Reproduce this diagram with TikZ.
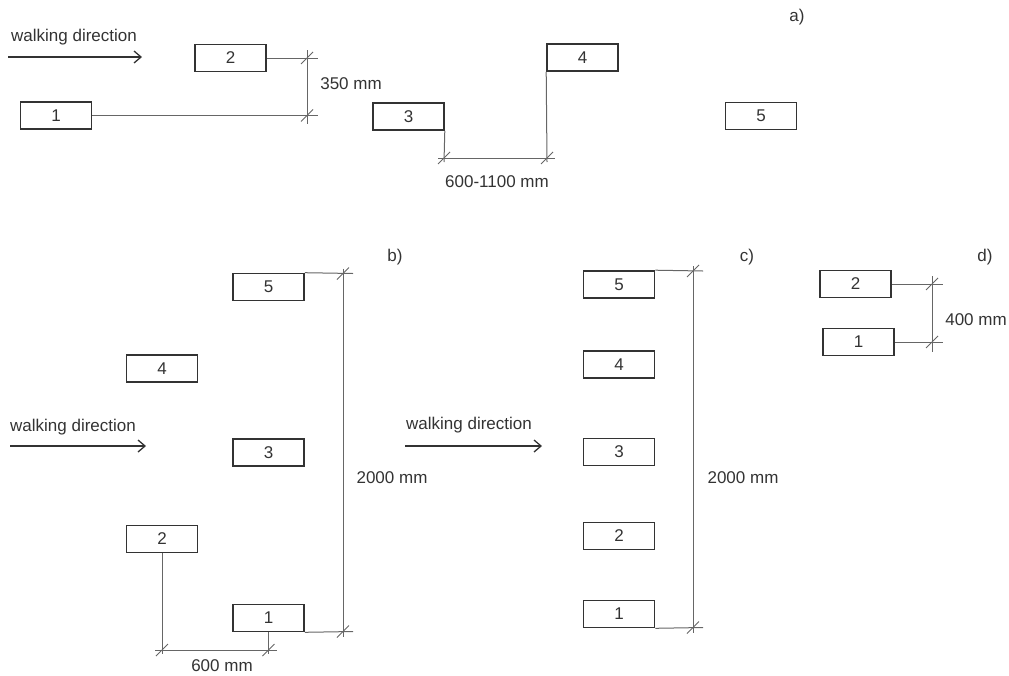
\documentclass[tikz,border=0pt]{standalone}
\usepackage{fontspec}
\setmainfont{Liberation Sans}
\usetikzlibrary{calc,arrows.meta}
\definecolor{ink}{HTML}{333333}
\definecolor{dimc}{HTML}{666666}
\tikzset{
  box/.style={draw=ink, line width=1.6pt, minimum width=71pt, minimum height=27pt, inner sep=0pt, font=\fontsize{17}{19}\selectfont, text=ink},
  lbl/.style={font=\fontsize{17}{19}\selectfont, text=ink, inner sep=0pt},
  dim/.style={draw=dimc, line width=1pt},
  walk/.style={draw=ink, line width=1.3pt, -{Straight Barb[length=7pt,width=12pt]}},
}
\newcommand\dimtick[1]{\draw[dim] ($(#1)+(-6,6)$) -- ($(#1)+(6,-6)$);}
\begin{document}
\begin{tikzpicture}[x=1pt,y=-1pt]
\useasboundingbox (0,0) rectangle (1009,675);
% ---------- panel a ----------
\node[lbl] (la) at (797,17) {a)};
\node[lbl] (wa) at (74,37) {walking direction};
\coordinate (wa0) at (8,57); \coordinate (wa1) at (142,57);
\draw[walk] (wa0) -- (wa1);
\node[box] (a1) at (56,115.5) {1};
\node[box] (a2) at (230.5,58) {2};
\node[box] (a3) at (408.5,116.5) {3};
\node[box] (a4) at (582.5,57.5) {4};
\node[box] (a5) at (761,116) {5};
\coordinate (a12t) at (307,58); \coordinate (a12b) at (307,115.5);
\draw[dim] (a2.east) -- ($(a12t)+(11,0)$);
\draw[dim] (a1.east) -- ($(a12b)+(11,0)$);
\draw[dim] ($(a12t)+(0,-8)$) -- ($(a12b)+(0,8)$);
\dimtick{a12t} \dimtick{a12b}
\node[lbl] (d350) at (351,84) {350 mm};
\coordinate (a3d) at (444,158); \coordinate (a4d) at (547,158);
\draw[dim] (a3.south east) -- ($(a3d)+(0,4)$);
\draw[dim] (a4.south west) -- ($(a4d)+(0,4)$);
\draw[dim] ($(a3d)+(-6,0)$) -- ($(a4d)+(8,0)$);
\dimtick{a3d} \dimtick{a4d}
\node[lbl] (d600a) at (497,182) {600-1100 mm};
% ---------- panel b ----------
\node[lbl] (lb) at (395,257) {b)};
\node[lbl] (wb) at (73,427) {walking direction};
\coordinate (wb0) at (10,446); \coordinate (wb1) at (146,446);
\draw[walk] (wb0) -- (wb1);
\node[box] (b5) at (268.5,287) {5};
\node[box] (b4) at (162,368.5) {4};
\node[box] (b3) at (268.5,452.5) {3};
\node[box] (b2) at (162,539) {2};
\node[box] (b1) at (268.5,618) {1};
\coordinate (bt) at (343,273.5); \coordinate (bb) at (343,631.5);
\draw[dim] (b5.north east) -- ($(bt)+(10,0)$);
\draw[dim] (b1.south east) -- ($(bb)+(10,0)$);
\draw[dim] ($(bt)+(0,-5)$) -- ($(bb)+(0,5)$);
\dimtick{bt} \dimtick{bb}
\node[lbl] (d2000b) at (392,478) {2000 mm};
\coordinate (bl) at (162,650); \coordinate (br) at (268.5,650);
\draw[dim] (b2.south) -- ($(bl)+(0,4)$);
\draw[dim] (b1.south) -- ($(br)+(0,4)$);
\draw[dim] ($(bl)+(-7,0)$) -- ($(br)+(8,0)$);
\dimtick{bl} \dimtick{br}
\node[lbl] (d600b) at (222,666) {600 mm};
% ---------- panel c ----------
\node[lbl] (lc) at (747,257) {c)};
\node[lbl] (wc) at (469,425) {walking direction};
\coordinate (wc0) at (405,446); \coordinate (wc1) at (542,446);
\draw[walk] (wc0) -- (wc1);
\node[box] (c5) at (619,284.5) {5};
\node[box] (c4) at (619,364.5) {4};
\node[box] (c3) at (619,452) {3};
\node[box] (c2) at (619,536) {2};
\node[box] (c1) at (619,614) {1};
\coordinate (ct) at (693,271); \coordinate (cb) at (693,627.5);
\draw[dim] (c5.north east) -- ($(ct)+(10,0)$);
\draw[dim] (c1.south east) -- ($(cb)+(10,0)$);
\draw[dim] ($(ct)+(0,-5)$) -- ($(cb)+(0,5)$);
\dimtick{ct} \dimtick{cb}
\node[lbl] (d2000c) at (743,478) {2000 mm};
% ---------- panel d ----------
\node[lbl] (ld) at (985,257) {d)};
\node[box] (d2) at (855.5,284) {2};
\node[box] (d1) at (858.5,342) {1};
\coordinate (dt) at (932,284); \coordinate (db) at (932,342);
\draw[dim] (d2.east) -- ($(dt)+(11,0)$);
\draw[dim] (d1.east) -- ($(db)+(11,0)$);
\draw[dim] ($(dt)+(0,-8)$) -- ($(db)+(0,10)$);
\dimtick{dt} \dimtick{db}
\node[lbl] (d400) at (976,320) {400 mm};
\end{tikzpicture}
\end{document}
